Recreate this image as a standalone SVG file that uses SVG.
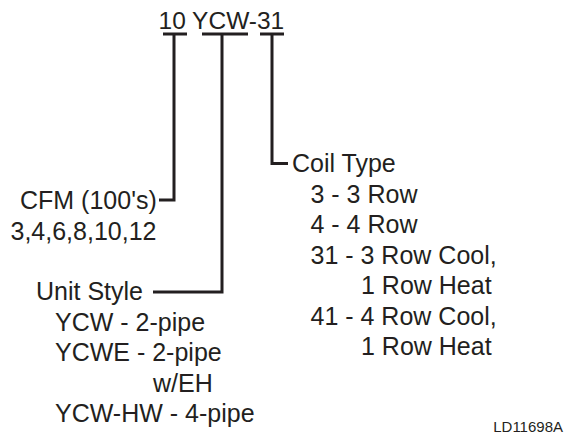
<svg xmlns="http://www.w3.org/2000/svg" width="565" height="435" viewBox="0 0 565 435">
<style>
text{font-family:"Liberation Sans",Arial,sans-serif;font-size:25px;fill:#231f20}
.title{font-size:24.5px}
.small{font-size:15px}
.ln{fill:none;stroke:#231f20;stroke-width:3;stroke-linejoin:miter;stroke-linecap:butt}
</style>
<rect width="565" height="435" fill="#fff"/>
<g id="title"><text class="title" x="158.5" y="28.5">10 YCW-31</text></g>
<g id="connectors">
<path class="ln" d="M163 34H187M174 34V200H159"/>
<path class="ln" d="M202 34H248M222 34V292H153"/>
<path class="ln" d="M260 34H284M272 34V163.5H288"/>
</g>
<g id="cfm">
<text x="20" y="209">CFM (100's)</text>
<text x="10.5" y="239.5">3,4,6,8,10,12</text>
</g>
<g id="unit-style">
<text x="36" y="300">Unit Style</text>
<text x="55" y="330.5">YCW - 2-pipe</text>
<text x="55" y="361">YCWE - 2-pipe</text>
<text x="153" y="391.5">w/EH</text>
<text x="55" y="422">YCW-HW - 4-pipe</text>
</g>
<g id="coil-type">
<text x="292" y="172">Coil Type</text>
<text x="310.5" y="202.5">3 - 3 Row</text>
<text x="310.5" y="233">4 - 4 Row</text>
<text x="310.5" y="263.5">31 - 3 Row Cool,</text>
<text x="361" y="294">1 Row Heat</text>
<text x="310.5" y="324.5">41 - 4 Row Cool,</text>
<text x="361" y="355">1 Row Heat</text>
</g>
<g id="code"><text class="small" x="563" y="432" text-anchor="end">LD11698A</text></g>
</svg>
